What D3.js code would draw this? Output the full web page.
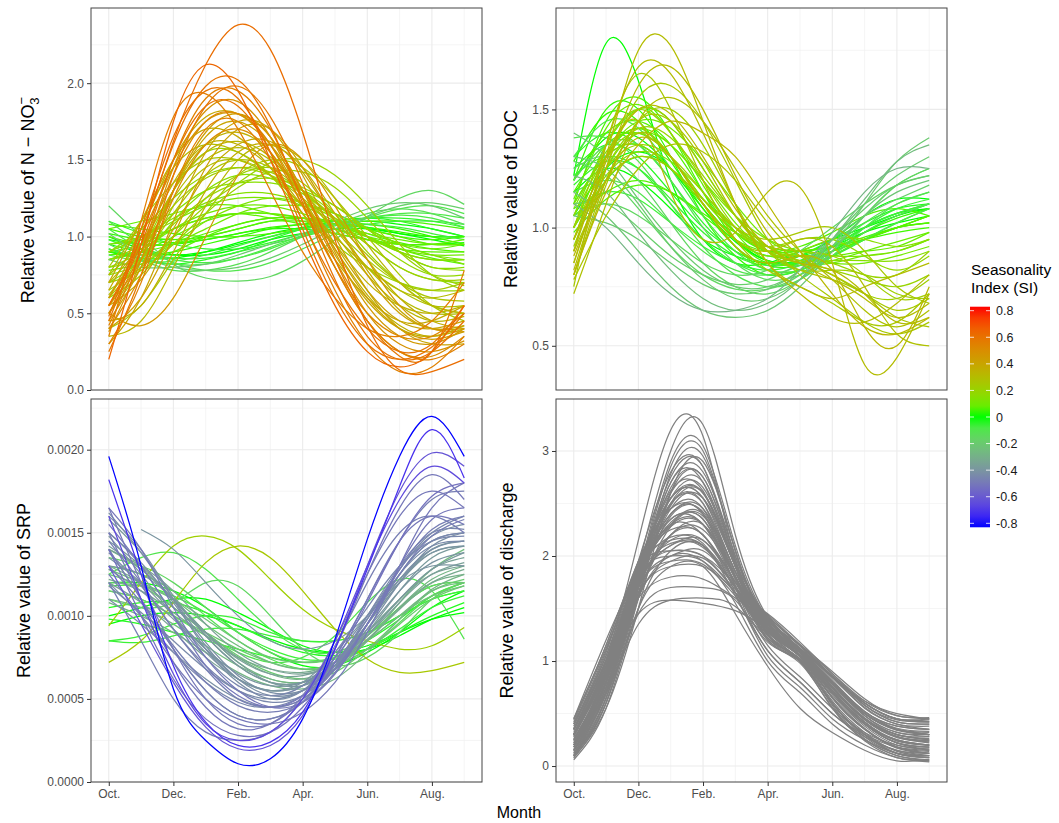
<!DOCTYPE html>
<html><head><meta charset="utf-8">
<script src="https://cdn.jsdelivr.net/npm/d3@7"></script>
<style>body{margin:0;background:#fff}svg{display:block;font-family:"Liberation Sans",Arial,sans-serif}</style>
</head><body><svg id="c" width="1059" height="823"></svg>
<script>
// months Oct.(0) ... Sep.(11)
const monthTicks = [0,2,4,6,8,10];
const monthLabels = ["Oct.","Dec.","Feb.","Apr.","Jun.","Aug."];
const monthGridMinor = [1,3,5,7,9,11];

const no3Ticks = [0,0.5,1,1.5,2];
const docTicks = [0.5,1,1.5];
const srpTicks = [0,0.0005,0.001,0.0015,0.002];
const qTicks = [0,1,2,3];

const siLegendTicks = [0.8,0.6,0.4,0.2,0,-0.2,-0.4,-0.6,-0.8];
const siLegendLabels = ["0.8","0.6","0.4","0.2","0","-0.2","-0.4","-0.6","-0.8"];
const siStops = [-0.8,-0.4,0,0.4,0.8];
const siColors = ["#0000FF","#7A95A0","#00FF00","#C8A400","#FF0000"];

// N-NO3 relative values (SI, monthly values Oct..Sep)
const no3Series = [
 {si:0.62,v:[0.55,1.0,1.62,2.12,2.38,2.22,1.68,0.98,0.42,0.13,0.12,0.2]},
 {si:0.64,v:[0.2,0.95,1.75,2.12,1.95,1.5,1.0,0.55,0.25,0.15,0.25,0.55]},
 {si:0.6,v:[0.45,1.0,1.6,1.98,2.02,1.72,1.22,0.72,0.35,0.2,0.25,0.45]},
 {si:0.56,v:[0.35,1.1,1.78,1.93,1.7,1.3,0.9,0.6,0.4,0.35,0.45,0.7]},
 {si:0.6,v:[0.55,0.95,1.5,1.85,1.85,1.55,1.1,0.7,0.4,0.25,0.3,0.55]},
 {si:0.52,v:[0.5,0.9,1.4,1.75,1.8,1.6,1.2,0.8,0.5,0.35,0.35,0.5]},
 {si:0.55,v:[0.3,0.7,1.3,1.7,1.75,1.5,1.1,0.65,0.3,0.12,0.15,0.35]},
 {si:0.58,v:[0.25,0.75,1.4,1.85,1.98,1.78,1.35,0.85,0.45,0.22,0.25,0.78]},
 {si:0.5,v:[0.4,0.75,1.25,1.6,1.7,1.55,1.2,0.8,0.45,0.25,0.22,0.35]},
 {si:0.6,v:[0.48,1.05,1.65,1.95,1.9,1.55,1.05,0.6,0.3,0.2,0.28,0.5]},
 {si:0.45,v:[0.6,1.0,1.45,1.75,1.8,1.65,1.3,0.9,0.55,0.35,0.3,0.4]},
 {si:0.4,v:[0.55,0.85,1.3,1.65,1.75,1.6,1.3,0.95,0.65,0.45,0.4,0.45]},
 {si:0.38,v:[0.7,1.1,1.5,1.7,1.65,1.45,1.15,0.85,0.6,0.45,0.45,0.55]},
 {si:0.42,v:[0.4,0.6,1.0,1.45,1.7,1.7,1.45,1.1,0.75,0.5,0.4,0.4]},
 {si:0.35,v:[0.6,0.95,1.35,1.6,1.6,1.45,1.2,0.95,0.7,0.55,0.5,0.55]},
 {si:0.36,v:[0.45,0.55,0.9,1.3,1.55,1.6,1.45,1.15,0.85,0.6,0.45,0.4]},
 {si:0.3,v:[0.75,1.1,1.45,1.6,1.55,1.4,1.2,1.0,0.8,0.65,0.6,0.65]},
 {si:0.32,v:[0.35,0.45,0.8,1.2,1.5,1.6,1.5,1.25,0.95,0.7,0.55,0.5]},
 {si:0.28,v:[0.5,0.8,1.2,1.45,1.5,1.4,1.2,1.0,0.8,0.65,0.55,0.55]},
 {si:0.4,v:[0.3,0.6,1.1,1.55,1.75,1.7,1.4,1.0,0.65,0.4,0.3,0.3]},
 {si:0.25,v:[0.8,1.1,1.35,1.5,1.5,1.4,1.25,1.05,0.85,0.7,0.65,0.7]},
 {si:0.45,v:[0.5,0.42,0.6,1.0,1.4,1.6,1.5,1.2,0.85,0.55,0.4,0.38]},
 {si:0.38,v:[0.65,1.05,1.5,1.78,1.8,1.6,1.25,0.88,0.58,0.4,0.35,0.42]},
 {si:0.2,v:[0.65,0.8,1.0,1.2,1.35,1.48,1.5,1.4,1.2,0.95,0.75,0.65]},
 {si:0.18,v:[0.9,1.05,1.25,1.4,1.45,1.4,1.3,1.15,1.0,0.85,0.75,0.75]},
 {si:0.15,v:[0.85,0.95,1.15,1.3,1.35,1.35,1.3,1.2,1.05,0.9,0.8,0.8]},
 {si:0.22,v:[0.6,0.75,1.0,1.25,1.4,1.45,1.35,1.15,0.9,0.7,0.55,0.5]},
 {si:0.12,v:[0.95,1.0,1.1,1.2,1.25,1.25,1.2,1.1,1.0,0.9,0.85,0.85]},
 {si:0.2,v:[0.55,0.9,1.3,1.55,1.55,1.4,1.15,0.95,0.8,0.7,0.65,0.65]},
 {si:0.25,v:[0.4,0.55,0.85,1.15,1.4,1.5,1.45,1.25,1.0,0.75,0.55,0.45]},
 {si:0.15,v:[0.7,0.85,1.1,1.3,1.4,1.38,1.28,1.12,0.95,0.8,0.72,0.7]},
 {si:0.1,v:[0.85,0.92,1.05,1.15,1.2,1.2,1.15,1.08,1.0,0.92,0.88,0.88]},
 {si:0.05,v:[1.0,0.95,0.95,1.0,1.05,1.1,1.1,1.1,1.05,1.0,0.95,0.95]},
 {si:0.02,v:[0.9,0.88,0.9,0.95,1.0,1.05,1.08,1.1,1.08,1.05,1.0,0.95]},
 {si:0.08,v:[1.05,1.1,1.15,1.2,1.2,1.15,1.1,1.05,1.0,0.95,0.92,0.95]},
 {si:0.0,v:[0.95,0.9,0.88,0.9,0.95,1.0,1.05,1.08,1.1,1.08,1.05,1.0]},
 {si:0.1,v:[0.8,0.85,0.95,1.05,1.15,1.2,1.2,1.15,1.05,0.95,0.88,0.85]},
 {si:0.03,v:[1.05,1.0,0.98,1.0,1.05,1.1,1.12,1.1,1.05,1.0,0.98,1.0]},
 {si:0.06,v:[0.85,0.9,1.0,1.1,1.15,1.15,1.12,1.05,0.98,0.92,0.9,0.9]},
 {si:0.0,v:[1.0,0.92,0.88,0.88,0.92,0.98,1.02,1.05,1.05,1.02,1.0,1.0]},
 {si:-0.02,v:[0.92,0.85,0.82,0.85,0.9,0.98,1.05,1.1,1.12,1.1,1.05,1.0]},
 {si:0.04,v:[1.08,1.05,1.02,1.0,1.0,1.02,1.05,1.08,1.1,1.1,1.08,1.05]},
 {si:0.07,v:[0.9,0.95,1.05,1.12,1.15,1.12,1.08,1.02,0.98,0.95,0.95,0.98]},
 {si:0.01,v:[0.98,0.95,0.95,0.98,1.02,1.05,1.05,1.02,0.98,0.95,0.95,0.96]},
 {si:-0.15,v:[1.2,1.0,0.82,0.73,0.71,0.74,0.84,0.98,1.13,1.25,1.3,1.21]},
 {si:-0.1,v:[1.1,0.95,0.83,0.78,0.78,0.83,0.92,1.02,1.12,1.18,1.2,1.15]},
 {si:-0.12,v:[0.95,0.85,0.78,0.78,0.82,0.9,1.0,1.08,1.15,1.18,1.15,1.08]},
 {si:-0.08,v:[1.05,0.92,0.85,0.83,0.86,0.92,1.0,1.07,1.12,1.15,1.15,1.12]},
 {si:-0.2,v:[0.85,0.8,0.8,0.82,0.88,0.95,1.02,1.1,1.18,1.22,1.2,1.12]},
 {si:-0.05,v:[0.98,0.9,0.86,0.86,0.9,0.95,1.0,1.05,1.08,1.1,1.1,1.08]},
 {si:-0.18,v:[1.02,0.88,0.8,0.78,0.8,0.86,0.95,1.05,1.13,1.2,1.22,1.18]},
 {si:-0.06,v:[0.88,0.84,0.84,0.88,0.94,1.0,1.05,1.08,1.08,1.06,1.02,0.98]},
 {si:0.35,v:[0.5,0.85,1.3,1.6,1.68,1.55,1.25,0.92,0.62,0.42,0.35,0.4]},
 {si:0.3,v:[0.62,0.9,1.25,1.5,1.58,1.5,1.3,1.05,0.8,0.6,0.5,0.5]},
 {si:0.42,v:[0.45,0.8,1.3,1.68,1.8,1.65,1.3,0.92,0.6,0.4,0.33,0.38]},
 {si:0.33,v:[0.7,0.95,1.3,1.55,1.62,1.52,1.3,1.02,0.75,0.55,0.45,0.48]},
 {si:0.26,v:[0.6,0.85,1.15,1.4,1.5,1.45,1.3,1.1,0.88,0.7,0.6,0.58]},
 {si:0.48,v:[0.38,0.85,1.45,1.82,1.88,1.65,1.25,0.85,0.5,0.3,0.25,0.32]},
 {si:0.22,v:[0.75,0.95,1.2,1.38,1.45,1.42,1.3,1.12,0.95,0.8,0.72,0.72]},
 {si:0.18,v:[0.8,0.9,1.08,1.25,1.35,1.38,1.32,1.2,1.05,0.9,0.8,0.78]},
 {si:0.14,v:[0.9,1.0,1.12,1.22,1.28,1.28,1.22,1.12,1.0,0.9,0.85,0.85]},
 {si:0.12,v:[0.75,0.82,0.95,1.1,1.2,1.25,1.22,1.15,1.05,0.95,0.88,0.82]},
 {si:0.08,v:[0.95,0.98,1.05,1.12,1.15,1.15,1.12,1.08,1.02,0.98,0.95,0.95]},
 {si:0.05,v:[0.88,0.9,0.95,1.02,1.08,1.12,1.12,1.08,1.02,0.96,0.92,0.9]},
 {si:0.02,v:[1.02,0.98,0.96,0.98,1.02,1.06,1.08,1.08,1.06,1.03,1.0,1.0]},
 {si:0.0,v:[0.9,0.86,0.86,0.9,0.96,1.02,1.06,1.08,1.06,1.02,0.98,0.94]},
 {si:-0.03,v:[1.1,1.02,0.95,0.92,0.92,0.96,1.02,1.08,1.12,1.12,1.1,1.06]},
 {si:-0.08,v:[0.92,0.86,0.82,0.82,0.86,0.93,1.01,1.08,1.12,1.14,1.12,1.06]},
 {si:0.06,v:[0.78,0.82,0.9,1.0,1.08,1.12,1.12,1.08,1.0,0.92,0.86,0.82]},
 {si:0.2,v:[0.7,0.78,0.95,1.15,1.32,1.42,1.42,1.32,1.12,0.9,0.75,0.68]},
 {si:0.55,v:[0.42,0.9,1.5,1.9,1.95,1.7,1.25,0.8,0.45,0.25,0.2,0.3]},
 {si:0.38,v:[0.55,0.72,1.05,1.4,1.6,1.62,1.42,1.1,0.78,0.52,0.4,0.42]}
];

// DOC relative values
const docSeries = [
 {si:0.3,v:[0.85,1.3,1.75,1.77,1.45,1.1,0.85,0.75,0.7,0.75,0.8,0.85]},
 {si:0.3,v:[0.9,1.35,1.68,1.65,1.4,1.1,0.85,0.72,0.62,0.6,0.68,0.8]},
 {si:0.25,v:[0.75,1.35,1.65,1.5,1.2,0.95,0.82,0.75,0.68,0.6,0.6,0.72]},
 {si:0.28,v:[0.72,1.1,1.45,1.55,1.45,1.25,1.05,0.9,0.78,0.65,0.58,0.65]},
 {si:0.22,v:[0.95,1.3,1.5,1.45,1.25,1.05,0.9,0.85,0.8,0.72,0.7,0.78]},
 {si:0.3,v:[0.95,1.3,1.45,1.15,0.95,0.98,1.15,1.17,0.85,0.42,0.45,0.72]},
 {si:0.25,v:[0.85,1.25,1.55,1.6,1.45,1.2,0.95,0.8,0.7,0.6,0.55,0.6]},
 {si:0.2,v:[1.0,1.35,1.5,1.4,1.2,1.0,0.9,0.88,0.85,0.8,0.8,0.9]},
 {si:0.32,v:[0.8,1.15,1.35,1.45,1.4,1.3,1.1,0.9,0.72,0.58,0.55,0.62]},
 {si:0.18,v:[1.05,1.3,1.4,1.3,1.12,0.98,0.92,0.95,0.95,0.88,0.82,0.88]},
 {si:0.22,v:[0.9,1.2,1.45,1.5,1.35,1.1,0.9,0.82,0.82,0.8,0.72,0.7]},
 {si:0.28,v:[0.8,1.2,1.4,1.3,1.1,0.95,0.9,0.95,0.92,0.75,0.55,0.5]},
 {si:0.15,v:[1.1,1.3,1.35,1.25,1.1,0.95,0.88,0.9,0.95,0.95,0.92,0.95]},
 {si:0.25,v:[0.95,1.2,1.3,1.25,1.12,1.0,0.95,0.98,1.0,0.9,0.75,0.68]},
 {si:0.3,v:[0.82,1.25,1.6,1.68,1.5,1.22,0.98,0.85,0.78,0.7,0.62,0.68]},
 {si:0.27,v:[0.78,1.05,1.25,1.35,1.32,1.2,1.02,0.88,0.8,0.72,0.62,0.58]},
 {si:0.32,v:[0.88,1.2,1.38,1.3,1.1,0.92,0.85,0.88,0.82,0.58,0.5,0.75]},
 {si:0.0,v:[1.22,1.78,1.62,1.2,0.95,0.85,0.85,0.9,0.95,1.0,1.05,1.1]},
 {si:0.05,v:[1.2,1.4,1.45,1.35,1.15,0.98,0.9,0.9,0.92,0.95,1.0,1.05]},
 {si:0.0,v:[1.1,1.3,1.35,1.25,1.1,0.95,0.88,0.88,0.92,0.98,1.02,1.05]},
 {si:0.08,v:[1.05,1.35,1.5,1.45,1.25,1.05,0.92,0.88,0.88,0.9,0.92,0.98]},
 {si:-0.02,v:[1.25,1.35,1.3,1.15,1.0,0.9,0.85,0.88,0.95,1.02,1.08,1.1]},
 {si:0.03,v:[1.0,1.2,1.3,1.25,1.12,1.0,0.92,0.9,0.92,0.95,0.98,1.0]},
 {si:0.1,v:[0.95,1.25,1.4,1.35,1.2,1.02,0.9,0.85,0.85,0.88,0.9,0.95]},
 {si:-0.03,v:[1.3,1.4,1.35,1.2,1.02,0.9,0.85,0.85,0.88,0.95,1.02,1.08]},
 {si:0.05,v:[1.05,1.15,1.2,1.15,1.05,0.95,0.9,0.92,0.98,1.05,1.08,1.05]},
 {si:0.0,v:[1.15,1.25,1.2,1.08,0.95,0.88,0.85,0.88,0.95,1.05,1.12,1.12]},
 {si:0.06,v:[1.0,1.3,1.42,1.3,1.1,0.92,0.82,0.82,0.88,0.95,1.0,1.05]},
 {si:0.02,v:[1.2,1.5,1.5,1.3,1.05,0.88,0.8,0.82,0.88,0.95,1.0,1.05]},
 {si:0.04,v:[1.1,1.45,1.55,1.4,1.15,0.95,0.85,0.85,0.9,0.95,1.0,1.02]},
 {si:-0.04,v:[1.18,1.28,1.25,1.12,0.98,0.88,0.84,0.86,0.92,1.0,1.06,1.1]},
 {si:-0.2,v:[1.3,1.25,1.1,0.92,0.78,0.7,0.7,0.78,0.92,1.1,1.28,1.38]},
 {si:-0.25,v:[1.22,1.15,0.98,0.82,0.7,0.65,0.68,0.78,0.95,1.12,1.28,1.35]},
 {si:-0.15,v:[1.25,1.3,1.2,1.02,0.85,0.75,0.72,0.78,0.9,1.05,1.18,1.25]},
 {si:-0.22,v:[1.15,1.05,0.9,0.75,0.65,0.62,0.65,0.75,0.9,1.05,1.15,1.2]},
 {si:-0.1,v:[1.38,1.38,1.28,1.1,0.92,0.8,0.75,0.78,0.88,1.0,1.1,1.15]},
 {si:-0.18,v:[1.1,1.1,1.0,0.88,0.8,0.76,0.78,0.85,0.95,1.05,1.12,1.18]},
 {si:-0.12,v:[1.2,1.35,1.35,1.2,1.0,0.85,0.78,0.8,0.88,0.98,1.05,1.1]},
 {si:-0.28,v:[1.1,1.0,0.85,0.72,0.65,0.65,0.7,0.82,0.98,1.15,1.25,1.25]},
 {si:-0.08,v:[1.3,1.45,1.42,1.25,1.05,0.9,0.82,0.82,0.88,0.95,1.02,1.08]},
 {si:-0.15,v:[1.05,1.1,1.05,0.95,0.85,0.8,0.82,0.9,1.0,1.1,1.18,1.22]},
 {si:-0.2,v:[1.4,1.3,1.12,0.95,0.82,0.75,0.75,0.82,0.95,1.1,1.22,1.3]},
 {si:0.05,v:[1.15,1.35,1.4,1.3,1.12,0.98,0.9,0.88,0.9,0.95,1.0,1.02]},
 {si:0.0,v:[1.05,1.25,1.32,1.25,1.1,0.95,0.86,0.85,0.9,0.98,1.05,1.08]},
 {si:0.08,v:[1.12,1.42,1.52,1.4,1.18,0.98,0.86,0.84,0.86,0.9,0.94,0.98]},
 {si:-0.05,v:[1.22,1.3,1.25,1.1,0.95,0.85,0.8,0.82,0.9,1.0,1.08,1.12]},
 {si:0.1,v:[1.0,1.3,1.45,1.42,1.28,1.1,0.95,0.88,0.85,0.85,0.88,0.92]},
 {si:0.12,v:[1.08,1.32,1.42,1.35,1.2,1.05,0.95,0.9,0.88,0.88,0.9,0.95]},
 {si:0.2,v:[0.92,1.25,1.42,1.38,1.22,1.05,0.92,0.86,0.82,0.78,0.75,0.8]},
 {si:0.25,v:[0.8,1.18,1.45,1.45,1.28,1.05,0.9,0.82,0.78,0.72,0.65,0.7]},
 {si:0.15,v:[1.0,1.22,1.32,1.28,1.15,1.0,0.9,0.86,0.86,0.86,0.86,0.9]},
 {si:-0.1,v:[1.15,1.2,1.15,1.02,0.9,0.82,0.8,0.84,0.92,1.02,1.1,1.15]},
 {si:-0.15,v:[1.28,1.22,1.08,0.92,0.8,0.74,0.74,0.8,0.92,1.05,1.18,1.25]},
 {si:-0.05,v:[1.08,1.15,1.12,1.02,0.92,0.85,0.82,0.85,0.92,1.0,1.06,1.1]},
 {si:0.02,v:[1.28,1.48,1.45,1.28,1.08,0.92,0.84,0.84,0.9,0.98,1.04,1.08]},
 {si:0.3,v:[0.9,1.28,1.5,1.48,1.3,1.08,0.92,0.85,0.82,0.72,0.6,0.62]},
 {si:0.22,v:[1.0,1.25,1.35,1.3,1.15,1.0,0.92,0.9,0.88,0.8,0.7,0.72]},
 {si:0.0,v:[1.2,1.38,1.38,1.25,1.08,0.94,0.86,0.86,0.92,1.0,1.06,1.08]},
 {si:-0.2,v:[1.05,1.02,0.95,0.85,0.76,0.72,0.74,0.82,0.95,1.08,1.18,1.22]},
 {si:0.05,v:[0.98,1.12,1.18,1.15,1.06,0.98,0.92,0.9,0.92,0.96,1.0,1.02]}
];

// SRP relative values
const srpSeries = [
 {si:-0.8,v:[0.00196,0.0013,0.00056,0.00025,0.00011,0.00014,0.00038,0.00086,0.00146,0.00196,0.0022,0.00196]},
 {si:-0.72,v:[0.00182,0.00125,0.0007,0.00036,0.00022,0.00024,0.00042,0.0008,0.00128,0.00178,0.00212,0.00183]},
 {si:-0.5,v:[0.00165,0.0012,0.0008,0.0005,0.00035,0.00035,0.0005,0.0008,0.00125,0.00165,0.00185,0.0017]},
 {si:-0.5,v:[0.0015,0.0011,0.00072,0.00045,0.00032,0.00035,0.00052,0.00085,0.00125,0.0016,0.00175,0.00165]},
 {si:-0.48,v:[0.0014,0.0011,0.0008,0.00055,0.0004,0.00038,0.00048,0.00075,0.0011,0.00145,0.0017,0.00175]},
 {si:-0.65,v:[0.0016,0.0011,0.00065,0.00035,0.00025,0.0003,0.0005,0.00085,0.0013,0.0017,0.0019,0.0018]},
 {si:-0.5,v:[0.00125,0.001,0.00072,0.0005,0.00038,0.00035,0.00042,0.0006,0.0009,0.0013,0.00165,0.0018]},
 {si:-0.62,v:[0.0013,0.00095,0.0006,0.00033,0.0002,0.00022,0.0004,0.0008,0.0013,0.00175,0.00198,0.0019]},
 {si:-0.5,v:[0.00155,0.0013,0.001,0.0007,0.00052,0.00045,0.00052,0.00075,0.0011,0.00145,0.0016,0.00155]},
 {si:-0.48,v:[0.0012,0.00085,0.0005,0.0003,0.00025,0.0003,0.0005,0.00082,0.0012,0.0015,0.0016,0.0015]},
 {si:-0.52,v:[0.0014,0.001,0.00062,0.00038,0.00028,0.0003,0.00045,0.00072,0.00108,0.00145,0.00172,0.0018]},
 {si:-0.45,v:[0.0015,0.0013,0.001,0.00075,0.00058,0.00052,0.00058,0.00078,0.00105,0.0013,0.00145,0.00148]},
 {si:-0.42,v:[0.0016,0.0014,0.0011,0.0008,0.0006,0.0005,0.00055,0.00075,0.001,0.00128,0.00148,0.00155]},
 {si:-0.4,v:[0.00135,0.0012,0.001,0.0008,0.00062,0.00055,0.0006,0.00078,0.001,0.00122,0.00138,0.00142]},
 {si:-0.48,v:[0.00145,0.0012,0.00092,0.00068,0.0005,0.00045,0.0005,0.00068,0.00095,0.00125,0.00148,0.00158]},
 {si:-0.38,v:[0.0013,0.00125,0.0011,0.0009,0.00072,0.0006,0.00058,0.00068,0.00088,0.0011,0.00128,0.00138]},
 {si:-0.45,v:[0.0012,0.001,0.00078,0.0006,0.00048,0.00045,0.00052,0.0007,0.00098,0.00128,0.0015,0.0016]},
 {si:-0.5,v:[0.00165,0.0014,0.00105,0.00075,0.00055,0.00045,0.00048,0.00065,0.00095,0.0013,0.00158,0.00165]},
 {si:-0.35,v:[0.0014,0.0013,0.00115,0.00095,0.00078,0.00068,0.00065,0.00072,0.0009,0.0011,0.00128,0.00135]},
 {si:-0.42,v:[0.0011,0.00095,0.00078,0.00062,0.0005,0.00045,0.0005,0.00068,0.00095,0.00125,0.00145,0.0015]},
 {si:-0.4,v:[null,0.00152,0.0014,0.0012,0.001,0.00085,0.0008,0.00085,0.001,0.0012,0.0013,0.0013]},
 {si:-0.3,v:[0.0013,0.0012,0.00105,0.0009,0.00075,0.00065,0.00062,0.0007,0.00085,0.00105,0.0012,0.00125]},
 {si:-0.35,v:[0.0012,0.00108,0.00092,0.00075,0.00062,0.00055,0.00058,0.0007,0.0009,0.0011,0.00125,0.0013]},
 {si:-0.45,v:[0.0014,0.0011,0.0008,0.00055,0.0004,0.00038,0.00048,0.0007,0.001,0.0013,0.0015,0.00152]},
 {si:-0.38,v:[0.00145,0.0013,0.0011,0.00088,0.0007,0.0006,0.0006,0.00072,0.00095,0.0012,0.0014,0.00145]},
 {si:-0.25,v:[0.00128,0.0012,0.0011,0.00095,0.00082,0.00072,0.00068,0.00072,0.00085,0.001,0.00115,0.0012]},
 {si:-0.2,v:[0.00115,0.0011,0.001,0.0009,0.0008,0.00072,0.00068,0.0007,0.0008,0.00095,0.0011,0.00118]},
 {si:-0.28,v:[0.0014,0.00128,0.0011,0.0009,0.00072,0.00062,0.0006,0.00068,0.00085,0.00105,0.00122,0.0013]},
 {si:-0.22,v:[0.0012,0.00118,0.0011,0.00098,0.00085,0.00075,0.00072,0.00075,0.00085,0.001,0.00112,0.00118]},
 {si:-0.15,v:[0.00135,0.0013,0.0012,0.00105,0.0009,0.00078,0.00072,0.00075,0.00088,0.00105,0.00118,0.0012]},
 {si:-0.25,v:[0.0011,0.00105,0.00095,0.00082,0.0007,0.00062,0.0006,0.00068,0.00085,0.00108,0.00128,0.0014]},
 {si:-0.05,v:[0.00085,0.00088,0.00095,0.001,0.00098,0.0009,0.00085,0.00085,0.0009,0.001,0.0011,0.00115]},
 {si:0.0,v:[0.0012,0.0012,0.00115,0.00105,0.0009,0.00078,0.0007,0.0007,0.00078,0.0009,0.00105,0.00115]},
 {si:-0.1,v:[0.00125,0.00135,0.00138,0.00128,0.0011,0.00092,0.0008,0.00078,0.00088,0.00105,0.00118,0.0012]},
 {si:-0.15,v:[0.0011,0.00105,0.00108,0.0012,0.00118,0.001,0.0008,0.0007,0.00075,0.0009,0.0011,0.0012]},
 {si:0.0,v:[0.001,0.00105,0.0011,0.0011,0.00102,0.00092,0.00082,0.00078,0.0008,0.00088,0.00098,0.00105]},
 {si:-0.05,v:[0.00085,0.00084,0.00088,0.00092,0.00092,0.00088,0.00085,0.00085,0.0009,0.001,0.0011,0.00115]},
 {si:-0.1,v:[0.00115,0.0011,0.001,0.00088,0.00078,0.00072,0.00075,0.00088,0.00108,0.00122,0.00115,0.00086]},
 {si:-0.02,v:[0.00098,0.00095,0.0009,0.00085,0.0008,0.00075,0.00072,0.00075,0.00085,0.00098,0.00112,0.0012]},
 {si:0.22,v:[0.00094,0.0012,0.00142,0.00148,0.0014,0.00122,0.00104,0.00092,0.00085,0.0008,0.00082,0.00093]},
 {si:0.25,v:[0.00072,0.00085,0.00108,0.00132,0.00142,0.00135,0.00115,0.00092,0.00074,0.00066,0.00067,0.00072]},
 {si:-0.42,v:[0.0015,0.00132,0.00108,0.00082,0.00062,0.00052,0.00055,0.0007,0.00095,0.00122,0.0014,0.00145]},
 {si:-0.45,v:[0.00138,0.00118,0.00092,0.0007,0.00055,0.00048,0.00052,0.00068,0.00095,0.00125,0.00145,0.0015]},
 {si:-0.4,v:[0.00128,0.00115,0.00098,0.0008,0.00065,0.00058,0.0006,0.00072,0.00092,0.00115,0.00132,0.00138]},
 {si:-0.38,v:[0.00158,0.00138,0.00112,0.00088,0.0007,0.0006,0.0006,0.0007,0.0009,0.00115,0.00135,0.00142]},
 {si:-0.44,v:[0.00118,0.00102,0.00085,0.00068,0.00055,0.0005,0.00055,0.00072,0.00098,0.00125,0.00142,0.00145]},
 {si:-0.36,v:[0.00142,0.00128,0.0011,0.0009,0.00074,0.00065,0.00064,0.00072,0.00088,0.00108,0.00125,0.00132]},
 {si:-0.48,v:[0.0013,0.00108,0.00082,0.0006,0.00046,0.00042,0.00048,0.00066,0.00095,0.00128,0.00152,0.0016]},
 {si:-0.4,v:[0.00148,0.00125,0.001,0.00078,0.00062,0.00055,0.00058,0.00072,0.00095,0.0012,0.00138,0.00142]},
 {si:-0.32,v:[0.00122,0.00115,0.00102,0.00088,0.00075,0.00068,0.00066,0.00072,0.00086,0.00104,0.0012,0.00128]},
 {si:-0.42,v:[0.00162,0.00138,0.0011,0.00084,0.00064,0.00054,0.00055,0.00068,0.00092,0.0012,0.00142,0.0015]},
 {si:-0.05,v:[0.00118,0.00118,0.00112,0.00102,0.0009,0.0008,0.00074,0.00074,0.0008,0.00092,0.00105,0.00112]},
 {si:-0.02,v:[0.00105,0.00108,0.00108,0.00102,0.00094,0.00085,0.00078,0.00076,0.0008,0.0009,0.001,0.00108]},
 {si:-0.12,v:[0.0013,0.00125,0.00115,0.001,0.00085,0.00074,0.00068,0.0007,0.0008,0.00096,0.00112,0.0012]},
 {si:0.0,v:[0.00095,0.001,0.00102,0.001,0.00094,0.00086,0.0008,0.00078,0.00082,0.0009,0.00098,0.00102]},
 {si:-0.2,v:[0.00125,0.00118,0.00105,0.0009,0.00076,0.00066,0.00062,0.00066,0.0008,0.00098,0.00115,0.00122]},
 {si:-0.28,v:[0.00108,0.001,0.0009,0.00078,0.00066,0.00058,0.00056,0.00062,0.00078,0.00098,0.00116,0.00125]}
];

// discharge relative values
const qSeries = [
 [0.3,1.0,2.15,3.2,3.14,1.97,1.4,1.1,0.8,0.5,0.35,0.3],
 [0.2,0.8,1.9,3.0,3.25,2.2,1.42,1.1,0.75,0.45,0.3,0.25],
 [0.15,0.75,1.8,2.85,3.0,2.05,1.38,1.05,0.7,0.4,0.25,0.2],
 [0.3,0.95,1.95,2.8,2.85,1.95,1.35,1.08,0.78,0.5,0.35,0.3],
 [0.1,0.6,1.6,2.6,2.75,1.95,1.3,1.0,0.6,0.3,0.15,0.1],
 [0.35,1.0,1.9,2.55,2.6,1.9,1.4,1.12,0.85,0.55,0.4,0.35],
 [0.2,0.8,1.8,2.5,2.5,1.85,1.33,1.05,0.7,0.4,0.25,0.2],
 [0.4,1.1,1.95,2.45,2.4,1.8,1.38,1.15,0.85,0.6,0.45,0.45],
 [0.1,0.65,1.7,2.35,2.3,1.8,1.25,1.0,0.6,0.28,0.12,0.08],
 [0.25,0.9,1.85,2.25,2.2,1.75,1.35,1.08,0.75,0.45,0.3,0.25],
 [0.45,1.15,1.9,2.15,2.1,1.7,1.42,1.15,0.85,0.62,0.5,0.45],
 [0.15,0.8,1.75,2.05,2.0,1.7,1.22,1.02,0.65,0.35,0.18,0.12],
 [0.3,0.95,1.8,2.0,1.95,1.65,1.36,1.1,0.8,0.5,0.35,0.3],
 [0.2,0.85,1.65,1.9,1.9,1.65,1.28,1.05,0.7,0.4,0.22,0.18],
 [0.35,1.0,1.6,1.8,1.78,1.6,1.38,1.12,0.82,0.52,0.38,0.35],
 [0.1,0.65,1.45,1.7,1.7,1.58,1.18,1.0,0.6,0.3,0.12,0.08],
 [0.2,0.7,1.35,1.58,1.6,1.52,1.22,1.02,0.7,0.4,0.22,0.15],
 [0.3,0.9,1.45,1.58,1.55,1.48,1.3,1.05,0.78,0.5,0.35,0.3],
 [0.45,1.2,1.85,2.3,2.4,1.8,1.35,1.1,0.85,0.6,0.45,0.42],
 [0.08,0.55,1.5,2.6,2.9,2.05,1.3,1.0,0.55,0.25,0.1,0.05],
 [0.12,0.7,1.7,2.7,2.7,1.9,1.28,1.05,0.65,0.35,0.18,0.12],
 [0.25,0.85,1.8,2.4,2.45,1.85,1.33,1.08,0.75,0.45,0.28,0.22],
 [0.18,0.75,1.65,2.2,2.3,1.8,1.3,1.05,0.7,0.4,0.22,0.18],
 [0.4,1.05,1.9,2.6,2.7,1.95,1.42,1.12,0.85,0.58,0.42,0.4],
 [0.3,0.9,1.75,2.1,2.15,1.75,1.36,1.08,0.78,0.48,0.3,0.28],
 [0.2,0.8,1.7,2.0,2.05,1.7,1.3,1.05,0.72,0.42,0.25,0.2],
 [0.1,0.7,1.7,2.45,2.55,1.9,1.26,1.0,0.6,0.3,0.12,0.1],
 [0.35,1.0,1.85,2.75,2.85,2.0,1.4,1.1,0.8,0.52,0.38,0.35],
 [0.15,0.75,1.75,2.3,2.2,1.75,1.24,1.02,0.65,0.35,0.17,0.12],
 [0.28,0.9,1.8,2.55,2.55,1.9,1.35,1.08,0.78,0.48,0.32,0.3],
 [0.2,0.8,1.7,2.2,2.2,1.65,1.05,0.75,0.45,0.25,0.12,0.1],
 [0.3,0.95,1.8,2.4,2.4,1.7,1.1,0.8,0.5,0.3,0.18,0.15],
 [0.15,0.7,1.6,2.0,1.95,1.55,1.0,0.7,0.4,0.2,0.08,0.05],
 [0.3,0.95,1.8,2.5,2.5,1.8,1.42,1.15,0.88,0.62,0.48,0.45],
 [0.35,1.0,1.85,2.3,2.3,1.75,1.45,1.18,0.88,0.6,0.45,0.42],
 [0.1,0.6,1.5,1.9,1.9,1.45,0.95,0.55,0.32,0.15,0.05,0.06],
 [0.22,0.85,1.8,2.65,2.75,1.95,1.32,1.08,0.75,0.45,0.28,0.24],
 [0.32,0.95,1.85,2.9,3.05,2.1,1.4,1.1,0.8,0.5,0.35,0.32],
 [0.12,0.68,1.65,2.5,2.6,1.9,1.25,1.02,0.62,0.32,0.14,0.1],
 [0.38,1.05,1.9,2.35,2.35,1.8,1.38,1.12,0.85,0.58,0.42,0.4],
 [0.18,0.78,1.72,2.15,2.15,1.72,1.27,1.05,0.72,0.42,0.24,0.2],
 [0.26,0.88,1.78,2.28,2.3,1.78,1.32,1.08,0.76,0.46,0.3,0.26],
 [0.42,1.12,1.92,2.55,2.55,1.85,1.43,1.14,0.86,0.6,0.45,0.44],
 [0.08,0.6,1.6,2.2,2.25,1.78,1.2,1.0,0.58,0.26,0.1,0.06],
 [0.28,0.92,1.82,2.7,2.8,2.0,1.36,1.1,0.78,0.48,0.32,0.28],
 [0.16,0.74,1.7,2.38,2.42,1.85,1.3,1.04,0.68,0.38,0.2,0.16],
 [0.34,0.98,1.84,2.18,2.12,1.7,1.38,1.1,0.8,0.52,0.36,0.33],
 [0.24,0.86,1.76,2.48,2.6,1.92,1.33,1.06,0.74,0.44,0.27,0.23],
 [0.14,0.72,1.62,1.95,1.98,1.65,1.25,1.02,0.66,0.36,0.18,0.14],
 [0.4,1.08,1.88,2.05,2.0,1.68,1.4,1.12,0.86,0.58,0.44,0.42],
 [0.2,0.82,1.75,2.55,2.65,1.92,1.3,1.06,0.72,0.42,0.24,0.2],
 [0.3,0.92,1.72,1.95,1.92,1.62,1.32,1.08,0.8,0.5,0.34,0.3],
 [0.1,0.64,1.62,2.28,2.38,1.82,1.22,1.0,0.6,0.3,0.12,0.08],
 [0.36,1.02,1.88,2.62,2.62,1.9,1.4,1.12,0.84,0.56,0.4,0.38],
 [0.25,0.88,1.78,2.12,2.08,1.7,1.3,1.06,0.74,0.44,0.28,0.24],
 [0.18,0.8,1.74,2.78,2.95,2.05,1.35,1.04,0.7,0.4,0.22,0.18],
 [0.3,0.95,1.82,2.32,2.35,1.72,1.15,0.85,0.55,0.32,0.2,0.16],
 [0.22,0.84,1.72,2.1,2.1,1.62,1.1,0.8,0.5,0.28,0.15,0.12],
 [0.44,1.15,1.95,2.45,2.45,1.8,1.44,1.16,0.9,0.64,0.48,0.46],
 [0.06,0.55,1.5,2.05,2.1,1.7,1.2,0.98,0.56,0.24,0.08,0.04]
];

const svg = d3.select("#c");
const colorSI = d3.scaleLinear().domain(siStops).range(siColors).interpolate(d3.interpolateLab);

const LEFT = 91, RIGHT = 556, TOP = 8, BOTTOM = 399, PW = 391;
const panels = [
 {x0:LEFT,y0:TOP,h:382,dom:[0,2.49],ticks:no3Ticks,minor:[0.25,0.75,1.25,1.75,2.25],fmt:d3.format(".1f"),series:no3Series,xlab:false,id:"p1"},
 {x0:RIGHT,y0:TOP,h:382,dom:[0.313,1.929],ticks:docTicks,minor:[0.75,1.25,1.75],fmt:d3.format(".1f"),series:docSeries,xlab:false,id:"p2"},
 {x0:LEFT,y0:BOTTOM,h:383,dom:[0,0.002305],ticks:srpTicks,minor:[0.00025,0.00075,0.00125,0.00175,0.00225],fmt:d3.format(".4f"),series:srpSeries,xlab:true,id:"p3"},
 {x0:RIGHT,y0:BOTTOM,h:383,dom:[-0.152,3.495],ticks:qTicks,minor:[0.5,1.5,2.5],fmt:d3.format("d"),series:qSeries.map(v=>({si:null,v})),xlab:true,id:"p4",grey:true}
];

const defs = svg.append("defs");

panels.forEach(p=>{
  const x = d3.scaleLinear().domain([-0.55,11.55]).range([p.x0,p.x0+PW]);
  const y = d3.scaleLinear().domain(p.dom).range([p.y0+p.h,p.y0]);
  const g = svg.append("g");
  defs.append("clipPath").attr("id","clip"+p.id).append("rect")
    .attr("x",p.x0).attr("y",p.y0).attr("width",PW).attr("height",p.h);
  g.selectAll(".ym").data(p.minor).join("line")
    .attr("x1",p.x0).attr("x2",p.x0+PW).attr("y1",d=>y(d)).attr("y2",d=>y(d))
    .attr("stroke","#F0F0F0").attr("stroke-width",0.7);
  g.selectAll(".xm").data(monthGridMinor).join("line")
    .attr("y1",p.y0).attr("y2",p.y0+p.h).attr("x1",d=>x(d)).attr("x2",d=>x(d))
    .attr("stroke","#F0F0F0").attr("stroke-width",0.7);
  g.selectAll(".yM").data(p.ticks).join("line")
    .attr("x1",p.x0).attr("x2",p.x0+PW).attr("y1",d=>y(d)).attr("y2",d=>y(d))
    .attr("stroke","#EBEBEB").attr("stroke-width",1.1);
  g.selectAll(".xM").data(monthTicks).join("line")
    .attr("y1",p.y0).attr("y2",p.y0+p.h).attr("x1",d=>x(d)).attr("x2",d=>x(d))
    .attr("stroke","#EBEBEB").attr("stroke-width",1.1);
  const line = d3.line().defined(d=>d!=null).x((d,i)=>x(i)).y(d=>y(d)).curve(d3.curveNatural);
  const ordered = p.grey ? p.series : p.series.slice().sort((a,b)=>Math.abs(a.si)-Math.abs(b.si));
  g.append("g").attr("clip-path","url(#clip"+p.id+")")
    .selectAll("path").data(ordered).join("path")
    .attr("d",d=>line(d.v))
    .attr("fill","none")
    .attr("stroke",d=>p.grey ? "#808080" : colorSI(d.si))
    .attr("stroke-width",1.25);
  g.append("rect").attr("x",p.x0).attr("y",p.y0).attr("width",PW).attr("height",p.h)
    .attr("fill","none").attr("stroke","#444").attr("stroke-width",1);
  const ya = g.append("g").attr("transform",`translate(${p.x0},0)`)
    .call(d3.axisLeft(y).tickValues(p.ticks).tickFormat(p.fmt).tickSize(4).tickPadding(3));
  ya.select(".domain").remove();
  ya.selectAll("line").attr("stroke","#333");
  ya.selectAll("text").attr("fill","#4D4D4D").style("font-size","12px").style("font-family","'Liberation Sans',Arial,sans-serif");
  if (p.xlab){
    const xa = g.append("g").attr("transform",`translate(0,${p.y0+p.h})`)
      .call(d3.axisBottom(x).tickValues(monthTicks).tickFormat((d,i)=>monthLabels[i]).tickSize(4).tickPadding(3));
    xa.select(".domain").remove();
    xa.selectAll("line").attr("stroke","#333");
    xa.selectAll("text").attr("fill","#4D4D4D").style("font-size","12px").style("font-family","'Liberation Sans',Arial,sans-serif");
  }
});

const tf = 18;
const t1 = svg.append("text").attr("transform","translate(34,200) rotate(-90)")
  .attr("text-anchor","middle").style("font-size",tf+"px").attr("fill","#000");
t1.append("tspan").text("Relative value of N \u2212 NO");
t1.append("tspan").text("3").style("font-size","13px").attr("dy",5);
t1.append("tspan").text("\u2212").style("font-size","13px").attr("dx",-7).attr("dy",-13);
svg.append("text").attr("transform","translate(517,199) rotate(-90)").attr("text-anchor","middle")
  .style("font-size",tf+"px").text("Relative value of DOC");
svg.append("text").attr("transform","translate(30,590.5) rotate(-90)").attr("text-anchor","middle")
  .style("font-size",tf+"px").text("Relative value of SRP");
svg.append("text").attr("transform","translate(513,590.5) rotate(-90)").attr("text-anchor","middle")
  .style("font-size",tf+"px").text("Relative value of discharge");
svg.append("text").attr("x",519).attr("y",818).attr("text-anchor","middle")
  .style("font-size","16px").text("Month");

const ly = d3.scaleLinear().domain([0.8,-0.8]).range([310.7,523.3]);
const grad = defs.append("linearGradient").attr("id","sigrad").attr("x1",0).attr("x2",0).attr("y1",0).attr("y2",1);
const gradVals = d3.range(0,21).map(i=>0.83 - i*0.083);
grad.selectAll("stop").data(gradVals).join("stop")
  .attr("offset",(d,i)=>i/20).attr("stop-color",d=>colorSI(Math.max(-0.8,Math.min(0.8,d))));
const leg = svg.append("g");
leg.append("text").attr("x",971).attr("y",275).style("font-size","15.5px").text("Seasonality");
leg.append("text").attr("x",971).attr("y",293).style("font-size","15.5px").text("Index (SI)");
leg.append("rect").attr("x",970).attr("y",ly(0.83)).attr("width",20).attr("height",ly(-0.83)-ly(0.83)).attr("fill","url(#sigrad)");
leg.selectAll(".tl").data(siLegendTicks).join("line")
  .attr("x1",970).attr("x2",974).attr("y1",d=>ly(d)).attr("y2",d=>ly(d)).attr("stroke","#fff").attr("stroke-width",0.8);
leg.selectAll(".tr").data(siLegendTicks).join("line")
  .attr("x1",986).attr("x2",990).attr("y1",d=>ly(d)).attr("y2",d=>ly(d)).attr("stroke","#fff").attr("stroke-width",0.8);
leg.selectAll(".lab").data(siLegendTicks).join("text")
  .attr("x",996).attr("y",d=>ly(d)+4.5).style("font-size","12.5px").attr("fill","#1a1a1a")
  .text((d,i)=>siLegendLabels[i]);
</script></body></html>
